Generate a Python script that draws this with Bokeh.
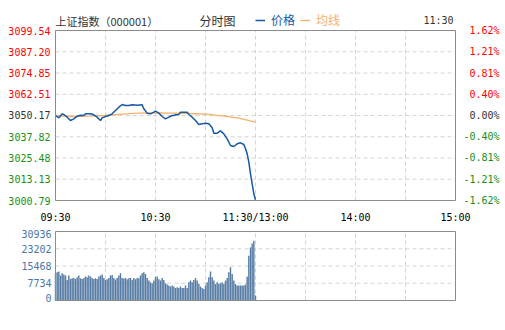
from bokeh.plotting import figure
from bokeh.models import Range1d, Legend, LegendItem
from bokeh.core.properties import value
from bokeh.embed import file_html
from bokeh.resources import INLINE

# ---------------- data ----------------
# minutes after 09:30 (trading minutes; 120 = 11:30 / 13:00, 240 = 15:00)
price_minutes = [0, 2, 4, 5, 7, 9, 11, 13, 15, 17, 18, 21, 23, 25, 27, 28, 30, 32, 34, 36,
                 38, 40, 42, 44, 46, 49, 52, 53, 55, 57, 59, 60, 62, 64, 66, 68, 70, 71, 72, 74,
                 75, 79, 80, 82, 84, 86, 88, 90, 92, 94, 95, 97, 99, 101, 103, 105, 107, 109,
                 111, 113, 114, 115, 116, 117, 118, 119, 120]
price_values = [3050.17, 3048.81, 3051.14, 3050.75, 3049.20, 3047.27, 3048.23, 3049.78, 3050.36,
                3050.17, 3051.14, 3051.14, 3050.56, 3049.20, 3047.27, 3048.81, 3049.59, 3050.17,
                3051.14, 3053.07, 3055.01, 3056.56, 3055.98, 3055.98, 3056.37, 3056.17, 3056.37,
                3054.04, 3051.53, 3051.14, 3052.11, 3052.69, 3051.53, 3049.59, 3048.23, 3049.20,
                3050.17, 3050.17, 3050.56, 3050.75, 3052.11, 3052.11, 3050.75, 3049.20, 3047.27,
                3044.94, 3045.33, 3045.72, 3045.33, 3043.01, 3039.91, 3039.91, 3041.26, 3039.52,
                3036.62, 3032.75, 3032.17, 3033.71, 3034.29, 3033.33, 3030.81, 3027.91, 3023.07,
                3016.29, 3010.48, 3004.67, 3001.19]

avg_minutes = [0, 10, 20, 30, 40, 50, 60, 70, 80, 90, 100, 110, 120]
avg_values = [3050.17, 3049.59, 3049.78, 3050.17, 3050.94, 3051.53, 3051.72, 3051.53,
              3051.33, 3050.94, 3049.98, 3048.62, 3046.30]

volume = [12200, 12650, 12950, 11160, 12200, 11610, 11160, 9230, 11160, 9670,
          9970, 10120, 9670, 10420, 11160, 9970, 9670, 10120, 10710, 10420,
          11160, 10710, 10120, 9670, 9970, 9670, 10710, 11160, 11610, 10120,
          9230, 9520, 10120, 11160, 11460, 10120, 9370, 10120, 11160, 12200,
          10120, 9820, 10120, 9520, 9970, 10120, 9230, 10120, 9520, 10120,
          9970, 11160, 12200, 12650, 11900, 10120, 8930, 8180, 7740, 8930,
          10420, 10710, 9520, 8930, 10120, 9230, 7740, 7140, 6700, 6250,
          6700, 6250, 5650, 5950, 5650, 6250, 5650, 5650, 6700, 5650,
          8180, 8930, 8180, 9230, 10120, 8930, 7440, 6250, 5650, 5210,
          6700, 8180, 10420, 12950, 10420, 8930, 7440, 8180, 7440, 7740,
          8180, 7440, 8930, 10120, 12650, 14880, 11900, 8930, 7440, 6700,
          6700, 6700, 6700, 6700, 7140, 10710, 20090, 23810, 25590, 26780,
          2230]
vol_minutes = list(range(len(volume)))

price_ticks = [3099.54, 3087.20, 3074.85, 3062.51, 3050.17, 3037.82, 3025.48, 3013.13, 3000.79]
price_tick_labels = ["3099.54", "3087.20", "3074.85", "3062.51", "3050.17",
                     "3037.82", "3025.48", "3013.13", "3000.79"]
pct_tick_labels = ["1.62%", "1.21%", "0.81%", "0.40%", "0.00%",
                   "-0.40%", "-0.81%", "-1.21%", "-1.62%"]
time_ticks = [0, 60, 120, 180, 240]
time_labels = ["09:30", "10:30", "11:30/13:00", "14:00", "15:00"]
grid_minutes = [30, 60, 90, 120, 150, 180, 210]
vol_ticks = [0, 7734, 15468, 23202, 30936]
vol_tick_labels = ["0", "7734", "15468", "23202", "30936"]

# ---------------- style ----------------
MONO = "DejaVu Sans Mono"
CJK = "Noto Sans CJK SC"
RED = "#ff0000"
GREEN = "#169016"
GREY = "#333333"
BLUE = "#1658a6"
ORANGE = "#f5b06a"
BAR = "#557ba3"
VOLTXT = "#4a76a6"
GRID = "#d4d4d4"
FRAME = "#8c8c8c"

tick_colors = [RED] * 4 + [GREY] + [GREEN] * 4

# ---------------- layout (pixels) ----------------
W, H = 505, 330
BOX_L, BOX_R = 55, 455          # both boxes, columns
BOX_T, BOX_B = 30, 200          # price box, rows
VOL_T, VOL_B = 231, 300         # volume box, rows
T0, T1 = time_ticks[0], time_ticks[-1]
P_TOP, P_BOT = price_ticks[0], price_ticks[-1]
V_TOP, V_BOT = vol_ticks[-1], vol_ticks[0]

min_per_px = (T1 - T0) / (BOX_R - BOX_L)
pr_per_px = (P_TOP - P_BOT) / (BOX_B - BOX_T)
vo_per_px = (V_TOP - V_BOT) / (VOL_B - VOL_T)

x_start = T0 - BOX_L * min_per_px
x_end = T1 + (W - BOX_R) * min_per_px
y_end = P_TOP + BOX_T * pr_per_px
y_start = P_BOT - (H - BOX_B) * pr_per_px
v_end = V_TOP + VOL_T * vo_per_px
v_start = V_BOT - (H - VOL_B) * vo_per_px


def row(r):
    """price-space y value that falls on pixel row r"""
    return P_TOP - (r - BOX_T) * pr_per_px


p = figure(width=W, height=H, x_range=Range1d(x_start, x_end), y_range=Range1d(y_start, y_end),
           min_border=0, min_border_left=0, min_border_right=0, min_border_top=0, min_border_bottom=0,
           x_axis_location=None, y_axis_location=None,
           output_backend="svg", toolbar_location=None,
           background_fill_color="white", border_fill_color="white")
p.extra_y_ranges = {"vol": Range1d(v_start, v_end)}
p.outline_line_color = None
p.grid.visible = False

# ---------------- price panel ----------------
inner_y = price_ticks[1:-1]
p.segment(x0=T0, x1=T1, y0=inner_y, y1=inner_y, line_color=GRID, line_dash="4 3", line_width=1)
p.segment(x0=grid_minutes, x1=grid_minutes, y0=P_BOT, y1=P_TOP, line_color=GRID, line_dash="4 3",
          line_width=1)

avg_r = p.line(avg_minutes, avg_values, line_color=ORANGE, line_width=1.3)
price_r = p.line(price_minutes, price_values, line_color=BLUE, line_width=1.5)

p.quad(left=T0, right=T1, bottom=P_BOT, top=P_TOP, fill_color=None, line_color=FRAME, line_width=1)

p.text(x=T0, y=price_ticks, text=price_tick_labels, text_color=tick_colors, x_offset=-5,
       text_align="right", text_baseline="middle", text_font=value(MONO), text_font_size="10px")
p.text(x=T1, y=price_ticks, text=pct_tick_labels, text_color=tick_colors, x_offset=44,
       text_align="right", text_baseline="middle", text_font=value(MONO), text_font_size="10px")
p.text(x=time_ticks, y=row(217), text=time_labels, text_color="#000000",
       text_align="center", text_baseline="middle", text_font=value(MONO), text_font_size="10px")

# header
p.text(x=T0, y=row(20), text=["上证指数（000001）"], text_color=GREY, text_align="left",
       text_baseline="middle", text_font=value(CJK), text_font_size="11px")
p.text(x=T0, y=row(20), x_offset=144, text=["分时图"], text_color=GREY, text_align="left",
       text_baseline="middle", text_font=value(CJK), text_font_size="12px")
p.text(x=T1, y=row(20), x_offset=-2, text=["11:30"], text_color=GREY, text_align="right",
       text_baseline="middle", text_font=value(MONO), text_font_size="10px")

for label, rend, col, lx in [("价格", price_r, BLUE, 255), ("均线", avg_r, ORANGE, 300)]:
    leg = Legend(items=[LegendItem(label=label, renderers=[rend])], location=(lx, H - 28),
                 orientation="horizontal", glyph_width=10, glyph_height=12, label_height=12,
                 label_standoff=6, padding=0, margin=0, spacing=0,
                 border_line_color=None, background_fill_alpha=0,
                 label_text_font=CJK, label_text_font_size="12px", label_text_color=col)
    p.add_layout(leg)

# ---------------- volume panel ----------------
inner_v = vol_ticks[1:-1]
p.segment(x0=T0, x1=T1, y0=inner_v, y1=inner_v, line_color=GRID, line_dash="4 3", line_width=1,
          y_range_name="vol")
p.segment(x0=grid_minutes, x1=grid_minutes, y0=V_BOT, y1=V_TOP, line_color=GRID, line_dash="4 3",
          line_width=1, y_range_name="vol")
p.vbar(x=vol_minutes, top=volume, bottom=V_BOT, width=0.85, fill_color=BAR, line_color=None,
       y_range_name="vol")
p.quad(left=T0, right=T1, bottom=V_BOT, top=V_TOP, fill_color=None, line_color=FRAME, line_width=1,
       y_range_name="vol")
p.text(x=T0, y=vol_ticks, text=vol_tick_labels, text_color=VOLTXT, x_offset=-4,
       y_offset=[-3, 0, 0, 0, 2],
       text_align="right", text_baseline="middle", text_font=value(MONO), text_font_size="10px",
       y_range_name="vol")

open("out.html", "w").write(file_html(p, INLINE))
